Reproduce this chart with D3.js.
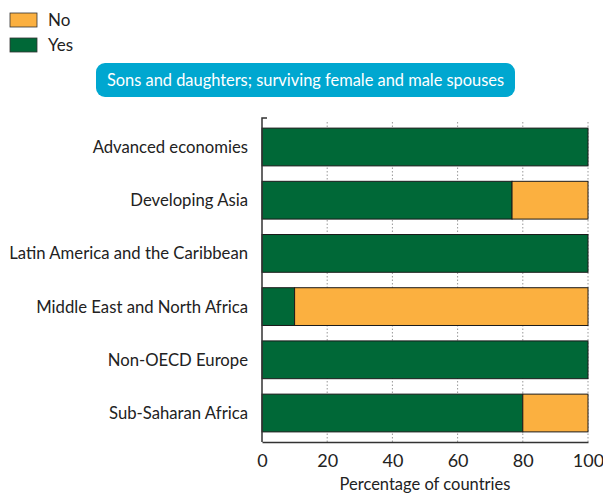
<!DOCTYPE html>
<html><head><meta charset="utf-8">
<script src="https://cdn.jsdelivr.net/npm/d3@7"></script>
<style>body{margin:0;background:#fff}svg{display:block;font-family:Lato,"Open Sans",sans-serif}</style>
</head><body>
<svg id="c" width="603" height="495"></svg>
<script>
const categories = ["Advanced economies","Developing Asia","Latin America and the Caribbean","Middle East and North Africa","Non-OECD Europe","Sub-Saharan Africa"];
const yesValues = [100, 76.7, 100, 10, 100, 80];
const noValues = [0, 23.3, 0, 90, 0, 20];
const xTicks = [0, 20, 40, 60, 80, 100];
const seriesNames = ["No", "Yes"];
const colors = {No: "#FBB040", Yes: "#006837"};
const title = "Sons and daughters; surviving female and male spouses";
const axisTitle = "Percentage of countries";

const svg = d3.select("#c");
const x = d3.scaleLinear().domain([0, 100]).range([262, 588]);
const y = d3.scaleBand().domain(categories).range([118, 442]).paddingInner(0.29).paddingOuter(0.19);

// legend
seriesNames.forEach((s, i) => {
  const g = svg.append("g").attr("transform", `translate(10,${13 + i * 25})`);
  g.append("rect").attr("width", 27).attr("height", 14).attr("fill", colors[s]).attr("stroke", "#333").attr("stroke-width", 0.8);
  g.append("text").attr("x", 38).attr("y", 13).attr("font-size", 17).attr("fill", "#222").text(s);
});

// title box
svg.append("rect").attr("x", 96).attr("y", 63).attr("width", 419).attr("height", 34).attr("rx", 9).attr("fill", "#00A7D0");
svg.append("text").attr("x", 305.5).attr("y", 86).attr("text-anchor", "middle").attr("font-size", 16.4).attr("fill", "#fff").text(title);

// grid
svg.append("g").selectAll("line").data(xTicks.filter(d => d > 0)).join("line")
  .attr("x1", d => x(d)).attr("x2", d => x(d)).attr("y1", 122).attr("y2", 442)
  .attr("stroke", "#999").attr("stroke-width", 1).attr("stroke-dasharray", "1.5,2");

// bars
const rows = categories.map((c, i) => ({c, yes: yesValues[i], no: noValues[i]}));
const g = svg.append("g");
rows.forEach(r => {
  g.append("rect").attr("x", x(0)).attr("y", y(r.c)).attr("width", x(r.yes) - x(0)).attr("height", y.bandwidth())
    .attr("fill", colors.Yes).attr("stroke", "#1a1a1a").attr("stroke-width", 1);
  if (r.no > 0) g.append("rect").attr("x", x(r.yes)).attr("y", y(r.c)).attr("width", x(r.yes + r.no) - x(r.yes)).attr("height", y.bandwidth())
    .attr("fill", colors.No).attr("stroke", "#1a1a1a").attr("stroke-width", 1);
});

// category labels
svg.append("g").selectAll("text").data(categories).join("text")
  .attr("x", 248).attr("y", d => y(d) + y.bandwidth() / 2 + 6)
  .attr("text-anchor", "end").attr("font-size", 16.7).attr("fill", "#222").text(d => d);

// axes
const xAxis = d3.axisBottom(x).tickValues(xTicks).tickSize(0).tickPadding(12);
const ax = svg.append("g").attr("transform", "translate(0,442)").call(xAxis);
ax.select(".domain").attr("stroke", "#333").attr("stroke-width", 1.5);
ax.selectAll("text").attr("font-size", 18).attr("fill", "#222").attr("font-family", "Lato,'Open Sans',sans-serif");
svg.append("path").attr("d", "M267,118 H262 V442").attr("fill", "none").attr("stroke", "#333").attr("stroke-width", 1.5);

svg.append("text").attr("x", 425).attr("y", 490).attr("text-anchor", "middle").attr("font-size", 16.5).attr("fill", "#222").text(axisTitle);
</script>
</body></html>
